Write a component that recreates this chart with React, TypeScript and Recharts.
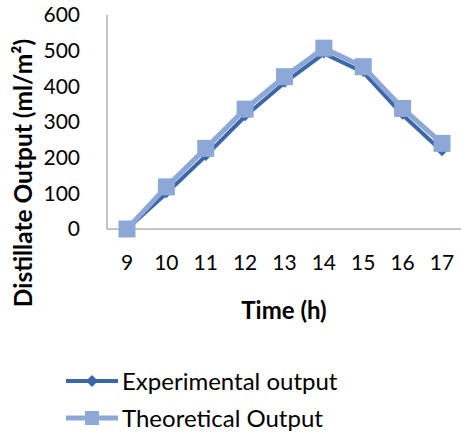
import React from "react";
import { Legend, Line, LineChart, XAxis, YAxis } from "recharts";

// hours of the day
const hours = [9, 10, 11, 12, 13, 14, 15, 16, 17];
// distillate output (ml/m2)
const experimental = [0, 100, 205, 316, 410, 492, 440, 320, 218];
const theoretical = [0, 118, 226, 336, 427, 507, 455, 338, 240];
const yTicks = [0, 100, 200, 300, 400, 500, 600];

const DARK = "#3B67A9";
const LIGHT = "#8DA7D7";
const FONT = "Lato, 'Open Sans', sans-serif";

const data = hours.map((h, i) => ({
	hour: h,
	experimental: experimental[i],
	theoretical: theoretical[i],
}));

const Diamond = (props: any) => {
	const { cx, cy } = props;
	if (cx == null || cy == null) return null;
	const r = 5;
	return (
		<path
			d={`M${cx},${cy - r}L${cx + r},${cy}L${cx},${cy + r}L${cx - r},${cy}Z`}
			fill={DARK}
		/>
	);
};

const Square = (props: any) => {
	const { cx, cy } = props;
	if (cx == null || cy == null) return null;
	const s = 17;
	return <rect x={cx - s / 2} y={cy - s / 2} width={s} height={s} fill={LIGHT} />;
};

const YLabel = (props: any) => {
	const { viewBox } = props;
	const x = 22;
	const y = viewBox.y + viewBox.height / 2 + 51;
	return (
		<text
			x={x}
			y={y}
			transform={`rotate(-90, ${x}, ${y})`}
			textAnchor="middle"
			dominantBaseline="central"
			fontFamily={FONT}
			fontWeight="bold"
			fontSize={24.5}
			fill="#000"
		>
			Distillate Output (ml/m²)
		</text>
	);
};

const LegendBox = () => {
	const rows = [
		{ name: "Experimental output", color: DARK, marker: "diamond" },
		{ name: "Theoretical Output", color: LIGHT, marker: "square" },
	];
	return (
		<div style={{ fontFamily: FONT, fontSize: 24, color: "#000" }}>
			{rows.map((r) => (
				<div key={r.name} style={{ display: "flex", alignItems: "center", height: 37 }}>
					<svg width={56} height={20} style={{ marginRight: 2 }}>
						<line x1={2} y1={10} x2={54} y2={10} stroke={r.color} strokeWidth={r.marker === "diamond" ? 4 : 5} />
						{r.marker === "diamond" ? (
							<path d="M28,4L34,10L28,16L22,10Z" fill={r.color} />
						) : (
							<rect x={21} y={3} width={14} height={14} fill={r.color} />
						)}
					</svg>
					<span>{r.name}</span>
				</div>
			))}
		</div>
	);
};

export default function App() {
	return (
		<div style={{ position: "absolute", left: 0, top: 0, background: "#fff" }}>
			<LineChart
				width={461}
				height={440}
				data={data}
				margin={{ top: 15, right: 0, bottom: 0, left: 0 }}
			>
				<XAxis
					dataKey="hour"
					type="category"
					height={211}
					padding={{ left: 20, right: 19 }}
					stroke="#8C8C8C"
					tickLine={false}
					tickSize={0}
					tickMargin={26}
					tick={{ fontFamily: FONT, fontSize: 21, fill: "#000" }}
					interval={0}
					label={{
						value: "Time (h)",
						position: "insideBottom",
						offset: 121,
						style: { fontFamily: FONT, fontWeight: "bold", fontSize: 24, fill: "#000" },
					}}
				/>
				<YAxis
					width={107}
					domain={[0, 600]}
					ticks={yTicks}
					stroke="#8C8C8C"
					tickLine={false}
					tickSize={0}
					tickMargin={27}
					tick={{ fontFamily: FONT, fontSize: 21, fill: "#000" }}
					label={<YLabel />}
				/>
				<Legend
					layout="horizontal"
					verticalAlign="middle"
					align="center"
					wrapperStyle={{ top: 362, left: 64, width: 320 }}
					content={<LegendBox />}
				/>
				<Line
					type="linear"
					dataKey="experimental"
					name="Experimental output"
					stroke={DARK}
					strokeWidth={4}
					dot={<Diamond />}
					activeDot={false}
					isAnimationActive={false}
				/>
				<Line
					type="linear"
					dataKey="theoretical"
					name="Theoretical Output"
					stroke={LIGHT}
					strokeWidth={5}
					dot={<Square />}
					activeDot={false}
					isAnimationActive={false}
				/>
			</LineChart>
		</div>
	);
}
